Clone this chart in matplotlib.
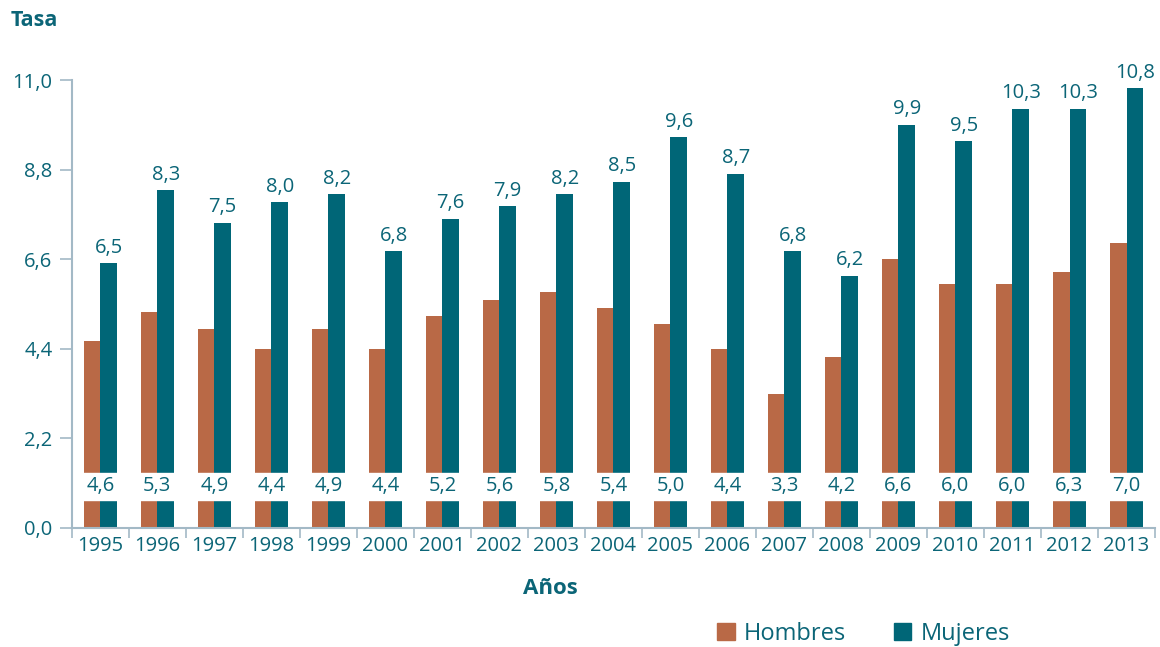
import matplotlib
matplotlib.use("Agg")
import matplotlib.pyplot as plt
import matplotlib.patches as mpatches
import numpy as np

# Data
years = ['1995', '1996', '1997', '1998', '1999', '2000', '2001', '2002', '2003', '2004',
         '2005', '2006', '2007', '2008', '2009', '2010', '2011', '2012', '2013']
hombres = [4.6, 5.3, 4.9, 4.4, 4.9, 4.4, 5.2, 5.6, 5.8, 5.4,
           5.0, 4.4, 3.3, 4.2, 6.6, 6.0, 6.0, 6.3, 7.0]
mujeres = [6.5, 8.3, 7.5, 8.0, 8.2, 6.8, 7.6, 7.9, 8.2, 8.5,
           9.6, 8.7, 6.8, 6.2, 9.9, 9.5, 10.3, 10.3, 10.8]
yticks = [0.0, 2.2, 4.4, 6.6, 8.8, 11.0]

text_col = '#0b6577'
axis_col = '#a3b9c6'
c_h = '#b96946'
c_m = '#006677'

plt.rcParams['font.family'] = ['Open Sans', 'DejaVu Sans']

fig = plt.figure(figsize=(11.6, 6.47), dpi=100)
ax = fig.add_axes([0.062, 0.184, 0.9337, 0.692])

x = np.arange(len(years))
w = 0.29
ax.bar(x - w / 2, hombres, w, color=c_h, zorder=2)
ax.bar(x + w / 2, mujeres, w, color=c_m, zorder=2)

# white band carrying the Hombres values
ax.axhspan(0.69, 1.35, color='white', zorder=2.2)
for i, v in enumerate(hombres):
    ax.text(x[i], 1.02, f'{v:.1f}'.replace('.', ','), ha='center', va='center',
            fontsize=14.5, color=text_col, zorder=3)
for i, v in enumerate(mujeres):
    ax.annotate(f'{v:.1f}'.replace('.', ','), (x[i] + w / 2, v), xytext=(0, 4),
                textcoords='offset points', ha='center', va='bottom',
                fontsize=14.5, color=text_col, annotation_clip=False)

ax.set_xlim(-0.5, len(years) - 0.5)
ax.set_ylim(0, 11.0)
ax.set_yticks(yticks)
ax.set_yticklabels([f'{t:.1f}'.replace('.', ',') for t in yticks])
ax.set_xticks(x)
ax.set_xticklabels(years)
ax.set_xticks(np.arange(-0.5, len(years), 1), minor=True)
ax.tick_params(axis='x', which='major', length=0, pad=6, labelsize=14.5, labelcolor=text_col)
ax.tick_params(axis='x', which='minor', length=7, width=1.2, color=axis_col, direction='out')
ax.tick_params(axis='y', length=9, width=1.2, color=axis_col, pad=5, labelsize=14.5,
               labelcolor=text_col)

for s in ['top', 'right']:
    ax.spines[s].set_visible(False)
for s in ['left', 'bottom']:
    ax.spines[s].set_color(axis_col)
    ax.spines[s].set_linewidth(1.5)

fig.text(0.009, 1 - 20 / 647, 'Tasa', ha='left', va='center', fontsize=15.5,
         fontweight='bold', color=text_col)
fig.text(550 / 1160, 1 - 588 / 647, 'Años', ha='center', va='center', fontsize=16,
         fontweight='bold', color=text_col)

handles = [mpatches.Patch(color=c_h, label='Hombres'),
           mpatches.Patch(color=c_m, label='Mujeres')]
leg = fig.legend(handles=handles, loc='center left', bbox_to_anchor=(0.618, 0.02),
                 ncol=2, frameon=False, fontsize=17, handlelength=0.75, handleheight=0.75,
                 handletextpad=0.4, columnspacing=2.0, borderpad=0, borderaxespad=0)
for t in leg.get_texts():
    t.set_color(text_col)

fig.savefig('out.png', dpi=100)
